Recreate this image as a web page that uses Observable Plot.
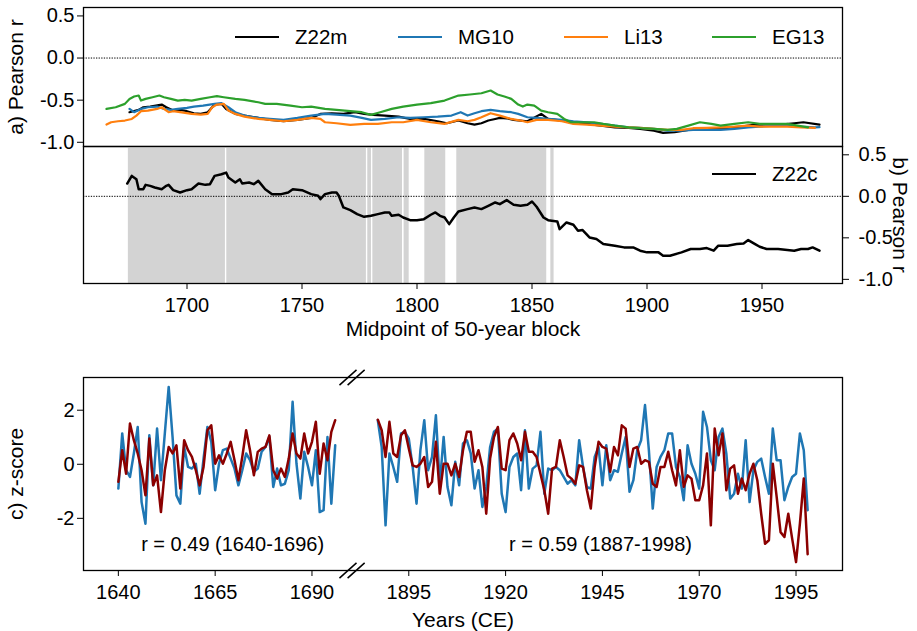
<!DOCTYPE html>
<html><head><meta charset="utf-8">
<script src="https://cdn.jsdelivr.net/npm/d3@7"></script>
<script src="https://cdn.jsdelivr.net/npm/@observablehq/plot@0.6"></script>
<style>
body{margin:0;background:#fff;}
#fig{position:relative;width:917px;height:631px;font-family:"Liberation Sans",Arial,sans-serif;color:#000;}
#fig svg{position:absolute;left:0;overflow:visible;background:transparent;}
.leg{position:absolute;display:flex;align-items:center;font-size:20.5px;white-space:nowrap;line-height:20px;}
.leg .sw{display:inline-block;width:44px;height:0;border-top:2.5px solid;margin-right:16px;}
</style></head><body><div id="fig"></div><script>
// ---------- panel a: running correlations (midpoint of 50-year block) ----------
const z22mYears = [1675,1679,1681,1684,1689,1691,1694,1697,1700,1703,1706,1709,1712,1715,1717,1721,1725,1731,1736,1742,1748,1754,1758,1763,1768,1773,1777,1781,1786,1792,1797,1803,1809,1813,1818,1822,1825,1828,1831,1834,1836,1839,1842,1845,1848,1854,1857,1863,1868,1874,1880,1886,1892,1897,1903,1907,1912,1918,1923,1929,1935,1941,1947,1952,1958,1964,1968,1975];
const z22mVals = [-0.643,-0.616,-0.584,-0.576,-0.552,-0.584,-0.624,-0.616,-0.631,-0.655,-0.663,-0.643,-0.552,-0.544,-0.604,-0.663,-0.683,-0.711,-0.734,-0.75,-0.734,-0.711,-0.663,-0.655,-0.663,-0.643,-0.663,-0.675,-0.683,-0.695,-0.723,-0.723,-0.75,-0.774,-0.742,-0.774,-0.79,-0.774,-0.742,-0.723,-0.711,-0.715,-0.734,-0.742,-0.75,-0.663,-0.723,-0.742,-0.774,-0.782,-0.802,-0.822,-0.829,-0.841,-0.861,-0.889,-0.881,-0.853,-0.841,-0.833,-0.829,-0.814,-0.79,-0.802,-0.79,-0.774,-0.762,-0.79];
const mg10Years = [1675,1677,1680,1683,1687,1690,1693,1696,1700,1703,1707,1712,1715,1718,1721,1725,1731,1736,1742,1748,1754,1760,1765,1771,1776,1780,1786,1792,1797,1803,1809,1815,1819,1822,1825,1828,1832,1836,1841,1844,1848,1852,1857,1863,1868,1874,1880,1886,1892,1897,1903,1909,1915,1920,1926,1932,1938,1944,1949,1955,1961,1967,1973,1975];
const mg10Vals = [-0.604,-0.643,-0.604,-0.584,-0.576,-0.604,-0.616,-0.604,-0.592,-0.576,-0.564,-0.544,-0.536,-0.584,-0.643,-0.683,-0.711,-0.723,-0.734,-0.711,-0.683,-0.663,-0.671,-0.683,-0.711,-0.734,-0.723,-0.703,-0.711,-0.703,-0.695,-0.683,-0.643,-0.683,-0.655,-0.631,-0.616,-0.631,-0.643,-0.663,-0.703,-0.711,-0.723,-0.734,-0.75,-0.762,-0.782,-0.802,-0.822,-0.829,-0.841,-0.861,-0.861,-0.853,-0.853,-0.853,-0.841,-0.822,-0.814,-0.802,-0.802,-0.814,-0.822,-0.82];
const li13Years = [1665,1667,1670,1673,1676,1678,1680,1683,1687,1689,1692,1694,1697,1702,1706,1709,1711,1713,1716,1718,1721,1725,1731,1736,1742,1748,1754,1758,1760,1765,1771,1777,1783,1789,1794,1800,1806,1812,1818,1822,1825,1828,1832,1836,1841,1845,1848,1852,1857,1863,1868,1874,1880,1886,1892,1897,1903,1909,1915,1920,1926,1932,1938,1944,1949,1955,1961,1967,1973];
const li13Vals = [-0.79,-0.762,-0.75,-0.742,-0.723,-0.683,-0.631,-0.624,-0.604,-0.584,-0.643,-0.631,-0.643,-0.663,-0.671,-0.663,-0.584,-0.552,-0.544,-0.624,-0.663,-0.695,-0.723,-0.734,-0.75,-0.734,-0.711,-0.723,-0.762,-0.774,-0.794,-0.782,-0.782,-0.762,-0.762,-0.734,-0.762,-0.782,-0.734,-0.75,-0.734,-0.703,-0.655,-0.683,-0.723,-0.742,-0.762,-0.734,-0.734,-0.75,-0.782,-0.79,-0.802,-0.814,-0.822,-0.829,-0.841,-0.853,-0.853,-0.833,-0.829,-0.822,-0.814,-0.802,-0.814,-0.814,-0.814,-0.822,-0.829];
const eg13Years = [1665,1669,1673,1675,1677,1679,1680,1682,1685,1688,1690,1693,1696,1699,1702,1706,1710,1713,1716,1721,1725,1731,1734,1739,1745,1750,1754,1760,1765,1771,1776,1780,1784,1789,1794,1800,1806,1812,1818,1823,1828,1832,1835,1838,1841,1844,1846,1848,1851,1854,1857,1861,1864,1867,1871,1877,1881,1886,1892,1897,1903,1909,1913,1918,1923,1928,1932,1938,1944,1949,1955,1961,1970];
const eg13Vals = [-0.604,-0.584,-0.544,-0.485,-0.457,-0.445,-0.505,-0.485,-0.465,-0.445,-0.465,-0.485,-0.505,-0.497,-0.505,-0.485,-0.465,-0.453,-0.465,-0.485,-0.497,-0.525,-0.544,-0.544,-0.564,-0.584,-0.576,-0.604,-0.616,-0.631,-0.643,-0.675,-0.643,-0.604,-0.576,-0.552,-0.536,-0.505,-0.445,-0.433,-0.418,-0.386,-0.433,-0.457,-0.485,-0.552,-0.576,-0.552,-0.564,-0.624,-0.643,-0.663,-0.723,-0.762,-0.762,-0.762,-0.782,-0.802,-0.822,-0.833,-0.841,-0.853,-0.841,-0.802,-0.762,-0.782,-0.802,-0.782,-0.762,-0.782,-0.782,-0.782,-0.822];
// ---------- panel b ----------
const z22cYears = [1674,1676,1678,1679,1681,1682,1684,1686,1689,1691,1692,1694,1697,1700,1702,1705,1708,1710,1712,1715,1717,1718,1721,1723,1724,1727,1729,1731,1734,1737,1741,1744,1746,1750,1754,1757,1758,1760,1763,1765,1766,1768,1771,1774,1777,1780,1783,1786,1788,1789,1792,1794,1797,1800,1803,1806,1808,1810,1812,1814,1816,1818,1822,1825,1828,1831,1834,1836,1839,1842,1845,1848,1850,1852,1855,1857,1861,1862,1865,1868,1870,1872,1875,1878,1881,1886,1890,1894,1897,1900,1905,1907,1910,1915,1919,1923,1926,1929,1931,1935,1939,1942,1944,1947,1949,1952,1957,1961,1964,1967,1970,1972,1975];
const z22cVals = [0.154,0.246,0.206,0.086,0.086,0.138,0.126,0.106,0.086,0.126,0.138,0.074,0.046,0.074,0.086,0.154,0.138,0.146,0.246,0.266,0.286,0.226,0.166,0.206,0.154,0.166,0.146,0.186,0.086,0.026,0.026,0.046,0.086,0.074,0.026,0.006,-0.034,0.026,0.046,0.046,0.006,-0.134,-0.166,-0.214,-0.247,-0.235,-0.214,-0.194,-0.194,-0.235,-0.222,-0.255,-0.287,-0.287,-0.275,-0.222,-0.194,-0.235,-0.255,-0.335,-0.255,-0.183,-0.154,-0.134,-0.154,-0.114,-0.074,-0.094,-0.046,-0.102,-0.114,-0.102,-0.062,-0.126,-0.255,-0.287,-0.303,-0.395,-0.315,-0.343,-0.415,-0.407,-0.495,-0.515,-0.575,-0.595,-0.615,-0.615,-0.655,-0.675,-0.675,-0.715,-0.715,-0.675,-0.635,-0.635,-0.623,-0.655,-0.595,-0.595,-0.575,-0.567,-0.527,-0.575,-0.607,-0.635,-0.635,-0.647,-0.655,-0.635,-0.635,-0.615,-0.655];
// shaded blocks in panel b
const spanStart = [1674.5,1717.3,1778.6,1780.8,1794.4,1803.4,1817.3,1858.2];
const spanEnd   = [1716.7,1778.0,1780.2,1793.7,1796.6,1812.5,1856.4,1859.6];

// ---------- panel c data (annual z-scores) ----------
const yearsEarly = d3.range(1640, 1697);
const yearsLate = d3.range(1887, 1999);
const blueEarly = [-0.90,1.14,-0.22,-0.47,0.40,1.38,-1.40,-2.20,1.07,-0.78,1.32,-0.59,1.14,2.86,1.01,-1.15,-1.46,0.64,-0.10,-0.16,0.02,-1.09,0.21,1.38,0.83,-0.96,0.02,0.52,0.58,0.21,-0.16,-0.78,-0.22,0.40,0.15,-0.28,-0.16,0.46,0.64,1.01,-0.84,-0.16,-0.78,-0.72,-0.22,2.31,0.02,-1.27,0.46,-0.10,-0.78,0.52,-1.77,-1.70,1.01,-1.46,0.70];
const redEarly = [-0.65,0.52,-0.35,1.51,0.89,0.40,-0.22,-1.15,0.95,-0.78,-0.41,-1.77,-0.22,0.64,0.40,0.70,-0.90,0.89,0.52,0.27,-0.22,-0.78,-0.10,1.26,1.44,0.02,0.33,0.02,0.40,0.83,0.15,-0.59,0.27,1.26,0.52,-0.41,0.46,0.58,0.64,1.07,-0.22,-0.53,-0.16,-0.47,0.21,1.14,0.40,0.21,1.14,0.40,0.83,1.57,-0.35,0.77,0.15,1.20,1.63];
const blueLate = [1.63,0.64,-2.26,0.40,-0.10,-0.65,1.14,1.20,0.95,-0.10,-1.46,0.52,1.63,-0.22,0.27,1.81,-0.72,1.01,-0.84,-1.52,0.09,-0.78,0.77,0.89,0.40,-0.90,-0.22,-1.58,-0.84,0.64,1.20,1.32,-1.09,-1.77,-0.10,0.27,0.40,-0.96,1.26,-0.90,-0.16,-0.04,1.20,-1.09,-0.16,-0.22,-0.10,-0.22,-0.47,-0.72,-0.59,-0.78,0.89,-0.10,-0.84,-0.90,0.27,0.64,-0.78,0.70,-0.59,-0.22,-0.28,0.40,1.01,-1.02,-0.59,0.52,0.89,2.19,0.52,-1.64,-0.10,0.27,0.52,1.14,1.14,-0.10,-0.47,-1.33,0.70,0.02,-0.35,-0.90,1.94,1.38,0.15,-0.22,1.01,1.32,0.40,-1.27,-1.09,-0.35,-0.90,0.89,-1.40,-0.22,0.09,0.21,-0.47,-1.09,1.32,0.15,0.15,-1.33,-0.84,-0.47,-0.35,1.14,0.52,-1.70];
const redLate = [1.65,1.26,0.27,1.57,0.40,0.27,1.07,1.26,0.58,-0.04,-0.10,0.02,0.27,-0.84,-0.65,0.83,-1.09,0.02,0.02,-0.41,0.02,-0.47,0.52,1.20,1.20,0.09,0.52,-0.10,-1.83,0.21,1.01,1.38,-0.16,-0.22,0.89,1.14,0.77,0.15,1.20,0.46,0.46,0.27,-0.35,-0.96,-1.83,-0.16,-0.10,0.89,0.27,-0.41,-0.53,-0.72,-0.04,-0.10,-0.96,-1.64,-0.10,0.83,0.64,0.58,-0.28,0.64,0.33,1.44,1.32,-0.10,0.58,0.64,0.02,0.15,0.09,-0.72,-0.84,-0.10,-0.10,0.46,-0.22,-0.78,0.52,-0.84,-0.41,-0.53,-1.33,-1.33,-0.78,0.40,-2.26,1.32,0.33,1.14,-0.96,-0.16,-0.04,-1.09,-0.53,-0.96,-0.35,0.02,-0.59,-1.83,-2.94,-2.81,0.02,-1.21,-2.51,-2.69,-1.83,-2.75,-3.62,-2.20,-0.53,-3.33];
const cTicks = [1640,1665,1690,1895,1920,1945,1970,1995];

// ---------- helpers ----------
const FONT = '"Liberation Sans", Arial, sans-serif';
const style = {fontFamily: FONT, fontSize: "20px", color: "black", background: "transparent", overflow: "visible"};
const LBL = 21;
const fig = document.getElementById("fig");
function place(svg, top) { svg.style.top = top + "px"; fig.appendChild(svg); }
const rows = (xs, vals) => xs.map((x, i) => ({x, v: vals[i]}));
const fmt1 = d => d.toFixed(1);

// ---------- panel a ----------
const pa = Plot.plot({
  width: 917, height: 150, marginTop: 7, marginBottom: 4, marginLeft: 83, marginRight: 75,
  style,
  x: {domain: [1655, 1985], axis: null},
  y: {domain: [-1.05, 0.6], axis: null},
  marks: [
    Plot.ruleY([0], {stroke: "black", strokeWidth: 1, strokeDasharray: "1.3,1.3"}),
    Plot.line(rows(z22mYears, z22mVals), {x: "x", y: "v", stroke: "black", strokeWidth: 2.2}),
    Plot.line(rows(mg10Years, mg10Vals), {x: "x", y: "v", stroke: "#1f77b4", strokeWidth: 2.2}),
    Plot.line(rows(li13Years, li13Vals), {x: "x", y: "v", stroke: "#ff7f0e", strokeWidth: 2.2}),
    Plot.line(rows(eg13Years, eg13Vals), {x: "x", y: "v", stroke: "#2ca02c", strokeWidth: 2.2}),
    Plot.axisY([-1, -0.5, 0, 0.5], {anchor: "left", tickSize: 6, tickPadding: 3, tickFormat: fmt1, label: null}),
    Plot.text(["a) Pearson r"], {text: d => d, frameAnchor: "left", textAnchor: "middle", lineAnchor: "middle", dx: -67, rotate: -90, fontSize: LBL}),
    Plot.frame({stroke: "black", strokeWidth: 1.3})
  ]
});
place(pa, 0);

// ---------- panel b ----------
const spans = spanStart.map((s, i) => ({s, e: spanEnd[i]}));
const pb = Plot.plot({
  width: 917, height: 200, marginTop: 6, marginBottom: 57, marginLeft: 83, marginRight: 75,
  style,
  x: {domain: [1655, 1985]},
  y: {domain: [-1.05, 0.6]},
  marks: [
    Plot.rect(spans, {x1: "s", x2: "e", y1: () => -1.05, y2: () => 0.6, fill: "#d3d3d3"}),
    Plot.ruleY([0], {stroke: "black", strokeWidth: 1, strokeDasharray: "1.3,1.3"}),
    Plot.line(rows(z22cYears, z22cVals), {x: "x", y: "v", stroke: "black", strokeWidth: 2.5}),
    Plot.axisY([-1, -0.5, 0, 0.5], {anchor: "right", tickSize: 6, tickPadding: 10, tickFormat: fmt1, label: null}),
    Plot.axisX([1700, 1750, 1800, 1850, 1900, 1950], {anchor: "bottom", tickSize: 6, tickPadding: 8.5, tickFormat: d => String(d), label: null}),
    Plot.text(["Midpoint of 50-year block"], {text: d => d, frameAnchor: "bottom", textAnchor: "middle", lineAnchor: "middle", dy: 46, fontSize: LBL}),
    Plot.text(["b) Pearson r"], {text: d => d, frameAnchor: "right", textAnchor: "middle", lineAnchor: "middle", dx: 57, rotate: 90, fontSize: LBL}),
    Plot.frame({stroke: "black", strokeWidth: 1.3})
  ]
});
place(pb, 140);

// ---------- panel c (broken x axis) ----------
const gapShift = 180;          // years removed between the two segments
const breakAt = 1700.5;        // segment boundary on the compressed axis
const xp = y => (y < 1800 ? y : y - gapShift);
const cRows = (years, vals) => years.map((y, i) => ({x: xp(y), v: vals[i]}));
const slashes = [];
for (const edge of [3.21, -3.93]) for (const k of [0, 1])
  slashes.push({x1: breakAt - 3.4 + k * 2.1, x2: breakAt + 1.0 + k * 2.1, y1: edge - 0.28, y2: edge + 0.28});
const pc = Plot.plot({
  width: 917, height: 261, marginTop: 7, marginBottom: 61, marginLeft: 83, marginRight: 75,
  style,
  x: {domain: [1631, 1827]},
  y: {domain: [-3.93, 3.21]},
  marks: [
    Plot.line(cRows(yearsEarly, blueEarly), {x: "x", y: "v", stroke: "#1f77b4", strokeWidth: 2.5}),
    Plot.line(cRows(yearsLate, blueLate), {x: "x", y: "v", stroke: "#1f77b4", strokeWidth: 2.5}),
    Plot.line(cRows(yearsEarly, redEarly), {x: "x", y: "v", stroke: "#8b0000", strokeWidth: 2.5}),
    Plot.line(cRows(yearsLate, redLate), {x: "x", y: "v", stroke: "#8b0000", strokeWidth: 2.5}),
    Plot.axisY([-2, 0, 2], {anchor: "left", tickSize: 6, tickPadding: 3, tickFormat: d => String(d), label: null}),
    Plot.axisX(cTicks.map(xp), {anchor: "bottom", tickSize: 6, tickPadding: 8, tickFormat: t => String(t < breakAt ? t : t + gapShift), label: null}),
    Plot.text(["r = 0.49 (1640-1696)"], {text: d => d, x: () => 1669.5, y: () => -2.98, fontSize: 20}),
    Plot.text(["r = 0.59 (1887-1998)"], {text: d => d, x: () => xp(1944.5), y: () => -2.98, fontSize: 20}),
    Plot.text(["Years (CE)"], {text: d => d, frameAnchor: "bottom", textAnchor: "middle", lineAnchor: "middle", dy: 50, fontSize: LBL}),
    Plot.text(["c) z-score"], {text: d => d, frameAnchor: "left", textAnchor: "middle", lineAnchor: "middle", dx: -67, rotate: -90, fontSize: LBL}),
    Plot.frame({stroke: "black", strokeWidth: 1.3}),
    Plot.link(slashes, {x1: "x1", x2: "x2", y1: "y1", y2: "y2", stroke: "black", strokeWidth: 1.5})
  ]
});
place(pc, 370);

// ---------- legends ----------
function legend(items, top) {
  for (const it of items) {
    const d = document.createElement("div");
    d.className = "leg";
    d.style.left = it.left + "px";
    d.style.top = (top - 10) + "px";
    d.innerHTML = `<span class="sw" style="border-color:${it.color}"></span><span>${it.label}</span>`;
    fig.appendChild(d);
  }
}
legend([
  {label: "Z22m", color: "black", left: 235},
  {label: "MG10", color: "#1f77b4", left: 398},
  {label: "Li13", color: "#ff7f0e", left: 564},
  {label: "EG13", color: "#2ca02c", left: 712}
], 37);
legend([{label: "Z22c", color: "black", left: 712}], 174);
</script></body></html>
